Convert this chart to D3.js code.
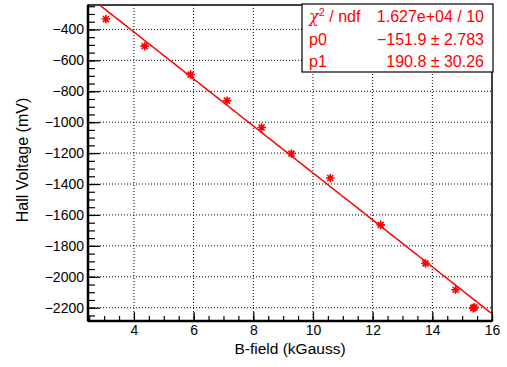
<!DOCTYPE html>
<html><head><meta charset="utf-8">
<script src="https://cdn.jsdelivr.net/npm/d3@7"></script>
<style>
html,body{margin:0;padding:0;background:#fff;}
svg{display:block;font-family:"Liberation Sans",Arial,Helvetica,sans-serif;}
</style></head>
<body>
<script>
const bField = [3.06, 4.36, 5.90, 7.12, 8.28, 9.28, 10.58, 12.27, 13.77, 14.78, 15.37, 15.41];
const hallV = [-333, -508, -692, -861, -1034, -1203, -1361, -1664, -1913, -2084, -2203, -2198];
const xTicks = [4, 6, 8, 10, 12, 14, 16];
const yTicks = [-400, -600, -800, -1000, -1200, -1400, -1600, -1800, -2000, -2200];
const fitP0 = -151.9, fitP1 = 190.8;
const statsRows = [["χ2 / ndf", "1.627e+04 / 10"], ["p0", "−151.9 ± 2.783"], ["p1", "190.8 ± 30.26"]];

const W = 507, H = 367;
const L = 88, R = 492, T = 5, B = 321;
const svg = d3.select("body").append("svg").attr("width", W).attr("height", H);
const x = d3.scaleLinear().domain([2.46, 16]).range([L, R]);
const y = d3.scaleLinear().domain([-2286, -242]).range([B, T]);

// grid
const g = svg.append("g");
g.selectAll(".gx").data(xTicks.filter(d => d < 16)).enter().append("line")
  .attr("x1", d => x(d)).attr("x2", d => x(d)).attr("y1", T).attr("y2", B)
  .attr("stroke", "#000").attr("stroke-width", 1).attr("stroke-dasharray", "1,2");
g.selectAll(".gy").data(yTicks).enter().append("line")
  .attr("y1", d => y(d)).attr("y2", d => y(d)).attr("x1", L).attr("x2", R)
  .attr("stroke", "#000").attr("stroke-width", 1).attr("stroke-dasharray", "1,2");

// axes
const fmt = d => d < 0 ? "\u2212" + Math.abs(d) : String(d);
const xAxis = d3.axisBottom(x).tickValues(xTicks).tickSize(-9).tickPadding(14).tickFormat(fmt);
const xMinor = d3.axisBottom(x).tickValues(d3.range(2.5, 16.01, 0.5)).tickSize(-5).tickFormat("");
const yAxis = d3.axisLeft(y).tickValues(yTicks).tickSize(-12).tickPadding(4).tickFormat(fmt);
const yMinor = d3.axisLeft(y).tickValues(d3.range(-2250, -249, 50)).tickSize(-7).tickFormat("");
function style(sel){
  sel.select(".domain").remove();
  sel.selectAll("line").attr("stroke", "#000").attr("stroke-width", 1.2);
  sel.selectAll("text").attr("fill", "#000").style("font-size", "14px")
    .style("font-family", '"Liberation Sans",Arial,sans-serif');
}
svg.append("g").attr("transform", `translate(0,${B})`).call(xMinor).call(style);
svg.append("g").attr("transform", `translate(0,${B})`).call(xAxis).call(style)
  .selectAll("text").attr("dy", null);
svg.append("g").attr("transform", `translate(${L},0)`).call(yMinor).call(style);
svg.append("g").attr("transform", `translate(${L},0)`).call(yAxis).call(style);

// frame
svg.append("rect").attr("x", L).attr("y", T).attr("width", R - L).attr("height", B - T)
  .attr("fill", "none").attr("stroke", "#000").attr("stroke-width", 1.5);
svg.append("line").attr("x1", L).attr("x2", R).attr("y1", B).attr("y2", B).attr("stroke", "#000").attr("stroke-width", 2.5);
svg.append("line").attr("x1", L).attr("x2", L).attr("y1", T).attr("y2", B).attr("stroke", "#000").attr("stroke-width", 2.5);

// fit line, clipped to frame
svg.append("clipPath").attr("id", "clip").append("rect").attr("x", L).attr("y", T).attr("width", R - L).attr("height", B - T);
const fx = d3.range(2.46, 16.001, 0.1);
svg.append("path").attr("clip-path", "url(#clip)")
  .attr("d", d3.line().x(d => x(d)).y(d => y(fitP0 * d + fitP1))(fx))
  .attr("fill", "none").attr("stroke", "#ff0000").attr("stroke-width", 1.5);

// markers (asterisk)
const s = 4.3;
const ast = `M${-s},0L${s},0M0,${-s}L0,${s}M${-s*0.7},${-s*0.7}L${s*0.7},${s*0.7}M${-s*0.7},${s*0.7}L${s*0.7},${-s*0.7}`;
svg.selectAll(".pt").data(bField.map((b, i) => [b, hallV[i]])).enter().append("path")
  .attr("transform", d => `translate(${x(d[0])},${y(d[1])})`)
  .attr("d", ast).attr("stroke", "#ff0000").attr("stroke-width", 1.6).attr("fill", "none");

// axis titles
svg.append("text").attr("x", 290).attr("y", 354).attr("text-anchor", "middle")
  .style("font-size", "15.5px").text("B-field (kGauss)");
svg.append("text").attr("transform", `translate(28,160) rotate(-90)`).attr("text-anchor", "middle")
  .style("font-size", "16px").text("Hall Voltage (mV)");

// stats box
const bx = 302, by = 4, bw = 191, bh = 68;
svg.append("rect").attr("x", bx).attr("y", by).attr("width", bw).attr("height", bh)
  .attr("fill", "#fff").attr("stroke", "#000").attr("stroke-width", 1.2);
const rowY = [22, 45, 67];
statsRows.forEach((r, i) => {
  const t = svg.append("text").attr("x", 309).attr("y", rowY[i]).attr("fill", "#ff0000").style("font-size", "16px");
  if (i === 0) {
    t.append("tspan").text("χ").style("font-family", '"DejaVu Serif",serif').style("font-style", "italic");
    t.append("tspan").text("2").attr("dy", -6).style("font-size", "11px");
    t.append("tspan").text(" / ndf").attr("dy", 6);
  } else t.text(r[0]);
  svg.append("text").attr("x", 484).attr("y", rowY[i]).attr("text-anchor", "end").attr("fill", "#ff0000")
    .style("font-size", "16px").text(r[1]);
});
</script>
</body></html>
